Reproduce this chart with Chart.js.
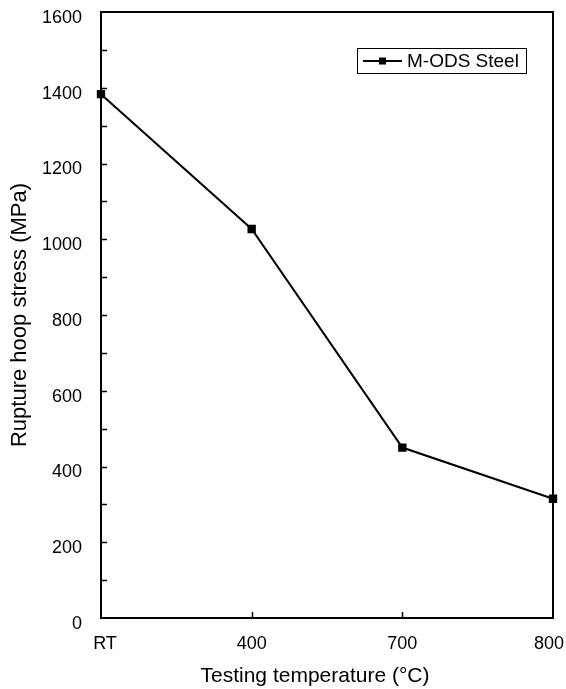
<!DOCTYPE html>
<html>
<head>
<meta charset="utf-8">
<script src="https://cdn.jsdelivr.net/npm/chart.js@4"></script>
<style>
  html, body { margin: 0; padding: 0; background: #fff; }
  #wrap { width: 566px; height: 689px; }
</style>
</head>
<body>
<div id="wrap"><canvas id="myChart" width="566" height="689"></canvas></div>
<script>
// data
const temperatures = ["RT", "400", "700", "800"];
const hoopStress = [1383, 1027, 450, 315];
const seriesName = "M-ODS Steel";
const yTicks = [0, 200, 400, 600, 800, 1000, 1200, 1400, 1600];

const FONT = "Arial, 'Liberation Sans', sans-serif";

// frame, inward ticks, x labels (kept inside the canvas) and the boxed legend
const framePlugin = {
  id: "frame",
  afterDraw(chart) {
    const { ctx, chartArea: a, scales, width } = chart;
    ctx.save();
    ctx.strokeStyle = "#000";
    ctx.lineWidth = 2;
    ctx.strokeRect(a.left, a.top, a.right - a.left, a.bottom - a.top);

    // y ticks every 100, pointing in
    ctx.lineWidth = 1.5;
    for (let v = 100; v < 1600; v += 100) {
      const y = Math.round(scales.y.getPixelForValue(v)) + 0.5;
      ctx.beginPath();
      ctx.moveTo(a.left, y);
      ctx.lineTo(a.left + 6, y);
      ctx.stroke();
    }
    // x ticks at inner categories
    for (let i = 1; i < temperatures.length - 1; i++) {
      const x = Math.round(scales.x.getPixelForValue(i)) + 0.5;
      ctx.beginPath();
      ctx.moveTo(x, a.bottom);
      ctx.lineTo(x, a.bottom - 6);
      ctx.stroke();
    }

    // category labels
    ctx.fillStyle = "#000";
    ctx.font = "18px " + FONT;
    ctx.textAlign = "center";
    ctx.textBaseline = "middle";
    temperatures.forEach((t, i) => {
      const half = ctx.measureText(t).width / 2;
      let x = scales.x.getPixelForValue(i);
      if (i === 0) x += 4;
      x = Math.min(x, width - half - 2);
      ctx.fillText(t, x, a.bottom + 26);
    });

    // x axis title, centred a little left of the plot like the original
    ctx.font = "21px " + FONT;
    ctx.fillText("Testing temperature (°C)", (a.left + a.right) / 2 - 12, 676);

    // legend box
    const lx = 357, ly = 48, lw = 169, lh = 25;
    ctx.lineWidth = 1;
    ctx.strokeRect(lx + 0.5, ly + 0.5, lw, lh);
    const my = ly + lh / 2 + 0.5;
    ctx.lineWidth = 2;
    ctx.beginPath();
    ctx.moveTo(lx + 6, my);
    ctx.lineTo(lx + 45, my);
    ctx.stroke();
    ctx.fillRect(lx + 22, my - 3.5, 7, 7);
    ctx.font = "19px " + FONT;
    ctx.textAlign = "left";
    ctx.fillText(seriesName, lx + 50, my + 1);
    ctx.restore();
  },
};

const ctx = document.getElementById("myChart").getContext("2d");
new Chart(ctx, {
  type: "line",
  data: {
    labels: temperatures,
    datasets: [
      {
        label: seriesName,
        data: hoopStress,
        borderColor: "#000",
        backgroundColor: "#000",
        borderWidth: 2,
        pointStyle: "rect",
        pointRadius: 4.5,
        pointHoverRadius: 4.5,
        tension: 0,
        clip: false,
      },
    ],
  },
  options: {
    responsive: false,
    animation: false,
    layout: { padding: { top: 12, right: 13, left: 0, bottom: 0 } },
    plugins: {
      legend: { display: false },
      tooltip: { enabled: false },
    },
    scales: {
      x: {
        type: "category",
        offset: false,
        grid: { display: false, drawTicks: false },
        border: { display: false },
        ticks: { display: false },
        title: { display: false },
        afterFit(scale) {
          scale.height = 71;
          scale.paddingLeft = 0;
          scale.paddingRight = 0;
        },
      },
      y: {
        min: 0,
        max: 1600,
        afterBuildTicks(scale) {
          scale.ticks = yTicks.map((v) => ({ value: v }));
        },
        grid: { display: false, drawTicks: false },
        border: { display: false },
        ticks: {
          color: "#000",
          font: { family: FONT, size: 18 },
          padding: 19,
          labelOffset: 6,
          callback: (v) => String(v),
        },
        title: {
          display: true,
          text: "Rupture hoop stress (MPa)",
          color: "#000",
          font: { family: FONT, size: 22 },
          padding: { top: 7, bottom: 0 },
        },
        afterFit(scale) {
          scale.width = 101;
          scale.paddingTop = 0;
          scale.paddingBottom = 0;
        },
      },
    },
  },
  plugins: [framePlugin],
});
</script>
</body>
</html>
